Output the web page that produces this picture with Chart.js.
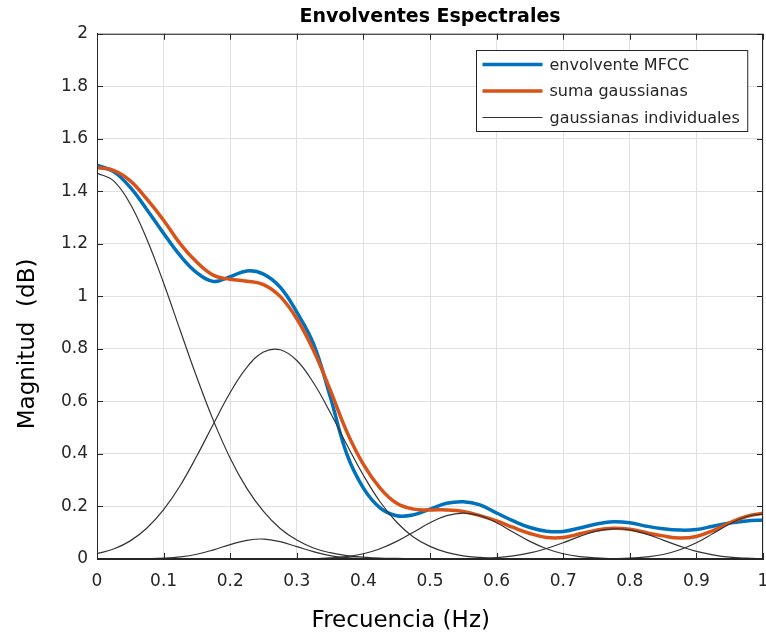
<!DOCTYPE html>
<html>
<head>
<meta charset="utf-8">
<title>Envolventes Espectrales</title>
<script src="https://cdn.jsdelivr.net/npm/chart.js@4.4.1/dist/chart.umd.min.js"></script>
<style>
  html, body { margin: 0; padding: 0; background: #fff; }
  #wrap { width: 766px; height: 642px; }
</style>
</head>
<body>
<div id="wrap"><canvas id="myChart"></canvas></div>
<script>
// frecuencia normalizada (eje x)
const freq = [0, 0.025, 0.05, 0.075, 0.1, 0.125, 0.15, 0.175, 0.2, 0.225,
    0.25, 0.275, 0.3, 0.325, 0.35, 0.375, 0.4, 0.425, 0.45, 0.475,
    0.5, 0.525, 0.55, 0.575, 0.6, 0.625, 0.65, 0.675, 0.7, 0.725,
    0.75, 0.775, 0.8, 0.825, 0.85, 0.875, 0.9, 0.925, 0.95, 0.975, 1];

// envolvente MFCC (azul)
const envMFCC = [1.50, 1.475, 1.415, 1.33, 1.24, 1.155, 1.09, 1.057, 1.075, 1.097,
    1.085, 1.035, 0.94, 0.82, 0.62, 0.40, 0.27, 0.195, 0.165, 0.168,
    0.19, 0.212, 0.218, 0.206, 0.175, 0.145, 0.12, 0.106, 0.105, 0.118,
    0.133, 0.142, 0.138, 0.125, 0.115, 0.11, 0.112, 0.125, 0.137, 0.145, 0.149];

// suma de gaussianas (naranja)
const sumaGauss = [1.49, 1.48, 1.44, 1.37, 1.29, 1.20, 1.13, 1.08, 1.065, 1.058,
    1.045, 1.0, 0.915, 0.795, 0.645, 0.485, 0.36, 0.27, 0.212, 0.19,
    0.187, 0.187, 0.181, 0.165, 0.145, 0.12, 0.097, 0.082, 0.082, 0.096,
    0.11, 0.117, 0.113, 0.1, 0.088, 0.08, 0.086, 0.108, 0.138, 0.162, 0.174];

// gaussianas individuales (negro fino)
const gauss1 = [1.47, 1.44, 1.352, 1.217, 1.051, 0.870, 0.691, 0.526, 0.384, 0.269,
    0.181, 0.116, 0.072, 0.042, 0.024, 0.013, 0.007, 0.003, 0.002, 0.001,
    0, 0, 0, 0, 0, 0, 0, 0, 0, 0,
    0, 0, 0, 0, 0, 0, 0, 0, 0, 0, 0];
const gauss2 = [0.020, 0.038, 0.069, 0.118, 0.188, 0.280, 0.393, 0.515, 0.634, 0.730,
    0.788, 0.797, 0.756, 0.671, 0.559, 0.436, 0.319, 0.218, 0.140, 0.084,
    0.048, 0.025, 0.012, 0.006, 0.002, 0.001, 0, 0, 0, 0,
    0, 0, 0, 0, 0, 0, 0, 0, 0, 0, 0];
const gauss3 = [0, 0, 0, 0.001, 0.003, 0.008, 0.018, 0.035, 0.055, 0.071,
    0.076, 0.066, 0.047, 0.028, 0.013, 0.005, 0.002, 0.001, 0, 0,
    0, 0, 0, 0, 0, 0, 0, 0, 0, 0,
    0, 0, 0, 0, 0, 0, 0, 0, 0, 0, 0];
const gauss4 = [0, 0, 0, 0, 0, 0, 0, 0, 0, 0,
    0, 0, 0, 0.001, 0.004, 0.009, 0.020, 0.039, 0.067, 0.102,
    0.138, 0.165, 0.175, 0.165, 0.138, 0.102, 0.067, 0.039, 0.020, 0.009,
    0.004, 0.001, 0, 0, 0, 0, 0, 0, 0, 0, 0];
const gauss5 = [0, 0, 0, 0, 0, 0, 0, 0, 0, 0,
    0, 0, 0, 0, 0, 0, 0, 0, 0, 0,
    0, 0, 0.001, 0.002, 0.005, 0.012, 0.023, 0.040, 0.062, 0.086,
    0.106, 0.115, 0.111, 0.095, 0.072, 0.049, 0.029, 0.016, 0.007, 0.003, 0.001];
const gauss6 = [0, 0, 0, 0, 0, 0, 0, 0, 0, 0,
    0, 0, 0, 0, 0, 0, 0, 0, 0, 0,
    0, 0, 0, 0, 0, 0, 0, 0, 0, 0,
    0, 0.001, 0.003, 0.008, 0.017, 0.035, 0.062, 0.097, 0.133, 0.161, 0.172];

const individuales = [gauss1, gauss2, gauss3, gauss4, gauss5, gauss6];

const azul = '#0072BD';
const naranja = '#D95319';
const gris = '#333333';
const ejes = '#262626';
const fuente = "'DejaVu Sans', 'Liberation Sans', sans-serif";

const toPoints = (vals) => vals.map((v, i) => ({x: freq[i], y: v}));

const datasets = [
    {
        label: 'envolvente MFCC',
        data: toPoints(envMFCC),
        borderColor: azul,
        borderWidth: 3.5,
        order: 2
    },
    {
        label: 'suma gaussianas',
        data: toPoints(sumaGauss),
        borderColor: naranja,
        borderWidth: 3.5,
        order: 1
    }
];
individuales.forEach((g, i) => {
    datasets.push({
        label: 'gaussianas individuales',
        data: toPoints(g),
        borderColor: gris,
        borderWidth: 1.2,
        order: 0,
        hideInLegend: i > 0
    });
});

// caja de ejes estilo MATLAB + marcas hacia dentro + leyenda con borde
const cajaEjes = {
    id: 'cajaEjes',
    afterDatasetsDraw(chart) {
        const {ctx, chartArea: a, scales: {x, y}} = chart;
        ctx.save();
        ctx.strokeStyle = ejes;
        ctx.lineWidth = 1;
        ctx.beginPath();
        x.ticks.forEach(t => {
            const px = Math.round(x.getPixelForValue(t.value)) + 0.5;
            ctx.moveTo(px, a.bottom); ctx.lineTo(px, a.bottom - 6);
            ctx.moveTo(px, a.top); ctx.lineTo(px, a.top + 6);
        });
        y.ticks.forEach(t => {
            const py = Math.round(y.getPixelForValue(t.value)) + 0.5;
            ctx.moveTo(a.left, py); ctx.lineTo(a.left + 6, py);
            ctx.moveTo(a.right, py); ctx.lineTo(a.right - 6, py);
        });
        ctx.stroke();
        ctx.strokeRect(a.left + 0.5, a.top + 0.5, a.width - 1, a.height - 1);

        // leyenda
        const items = chart.data.datasets.filter(d => !d.hideInLegend);
        ctx.font = '16px ' + fuente;
        const textW = Math.max(...items.map(d => ctx.measureText(d.label).width));
        const boxW = 73 + textW + 8;
        const boxH = 81;
        const bx = Math.round(a.right - 16 - boxW) + 0.5;
        const by = Math.round(a.top + 16) + 0.5;
        ctx.fillStyle = '#fff';
        ctx.fillRect(bx, by, boxW, boxH);
        ctx.strokeStyle = ejes;
        ctx.lineWidth = 1;
        ctx.strokeRect(bx, by, boxW, boxH);
        items.forEach((d, i) => {
            const cy = by + 14 + i * 26.5;
            ctx.strokeStyle = d.borderColor;
            ctx.lineWidth = d.borderWidth;
            ctx.beginPath();
            ctx.moveTo(bx + 6, cy);
            ctx.lineTo(bx + 66, cy);
            ctx.stroke();
            ctx.fillStyle = ejes;
            ctx.textBaseline = 'middle';
            ctx.textAlign = 'left';
            ctx.fillText(d.label, bx + 73, cy + 1);
        });
        ctx.restore();
    }
};

const fmt = (v) => Number(v.toFixed(1)).toString();

const ctx = document.getElementById('myChart').getContext('2d');

new Chart(ctx, {
    type: 'line',
    data: {datasets: datasets},
    options: {
        responsive: true,
        maintainAspectRatio: false,
        animation: false,
        layout: {padding: {left: 0, right: 3, top: 0, bottom: 0}},
        elements: {
            point: {radius: 0, hoverRadius: 0},
            line: {tension: 0.4, fill: false}
        },
        plugins: {
            legend: {display: false},
            tooltip: {enabled: false},
            title: {
                display: true,
                fullSize: false, // centrado sobre los ejes, no sobre el lienzo
                text: 'Envolventes Espectrales',
                color: '#000',
                font: {family: fuente, size: 19, weight: 'bold'},
                padding: {top: 6, bottom: 5}
            }
        },
        scales: {
            x: {
                type: 'linear',
                min: 0,
                max: 1,
                ticks: {
                    stepSize: 0.1,
                    color: ejes,
                    font: {family: fuente, size: 17},
                    padding: 12,
                    maxRotation: 0,
                    autoSkip: false,
                    callback: fmt
                },
                grid: {color: '#e0e0e0', drawTicks: false},
                border: {color: ejes},
                title: {
                    display: true,
                    // los espacios finales desplazan la etiqueta como en el original
                    text: 'Frecuencia (Hz)        ',
                    color: '#000',
                    font: {family: fuente, size: 23},
                    padding: {top: 0, bottom: 7}
                },
                afterFit(scale) {
                    scale.height = 83;
                    scale.paddingRight = 3;
                }
            },
            y: {
                min: 0,
                max: 2,
                ticks: {
                    stepSize: 0.2,
                    color: ejes,
                    font: {family: fuente, size: 17},
                    padding: 9,
                    callback: fmt
                },
                grid: {color: '#e0e0e0', drawTicks: false},
                border: {color: ejes},
                title: {
                    display: true,
                    text: 'Magnitud  (dB)             ',
                    color: '#000',
                    font: {family: fuente, size: 23},
                    padding: {top: 14, bottom: 0}
                },
                afterFit(scale) {
                    scale.width = 97;
                }
            }
        }
    },
    plugins: [cajaEjes]
});
</script>
</body>
</html>
